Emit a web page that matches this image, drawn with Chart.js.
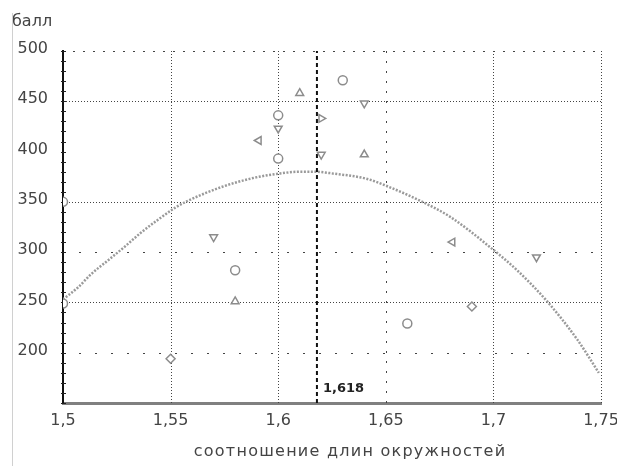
<!DOCTYPE html>
<html><head><meta charset="utf-8">
<script src="https://cdn.jsdelivr.net/npm/chart.js@4"></script>
<style>
html,body{margin:0;padding:0;background:#fff}
#wrap{position:relative;width:617px;height:466px;overflow:hidden}
#edge{position:absolute;left:12px;top:13px;width:1px;height:453px;background:#d0d0d0}
</style></head><body>
<div id="wrap"><canvas id="c" width="617" height="466"></canvas><div id="edge"></div></div>
<script>
// ---- data ----
const pointsX = [1.5, 1.5, 1.55, 1.57, 1.58, 1.58, 1.591, 1.6, 1.6, 1.6, 1.61, 1.62, 1.62, 1.63, 1.64, 1.64, 1.66, 1.681, 1.69, 1.72];
const pointsY = [350, 249, 194, 315, 282, 251, 411, 436, 423, 393, 458, 433, 397, 471, 448, 397, 229, 310, 246, 295];
const pointShapes = ['circle','circle','rectRot','triangle','circle','triangle','triangle','circle','triangle','circle','triangle','triangle','triangle','circle','triangle','triangle','circle','triangle','rectRot','triangle'];
const pointTurns = [0,0,0,180,0,0,270,0,180,0,0,90,180,0,180,0,0,270,0,180];
const trendX = [1.5, 1.507, 1.513, 1.521, 1.529, 1.536, 1.544, 1.552, 1.558, 1.574, 1.589, 1.6, 1.61, 1.617, 1.626, 1.641, 1.649, 1.667, 1.68, 1.699, 1.711, 1.725, 1.739, 1.749];
const trendY = [253, 265, 278, 292, 306, 319, 332, 344, 351, 365, 374, 378, 380, 380, 378, 373, 367, 350, 335, 304, 282, 251, 213, 180];
const goldenX = 1.618;
const goldenLabel = '1,618';
const xTicks = [1.5, 1.55, 1.6, 1.65, 1.7, 1.75];
const yTicks = [200, 250, 300, 350, 400, 450, 500];
const hGridDense = [250, 350, 450];
const hGridSparse = [200, 300];
const hGridTop = [500];
const vGridDense = [1.55, 1.6, 1.7, 1.75];
const vGridSparse = [1.65];
const yTitle = 'балл';
const xTitle = 'соотношение длин окружностей';

const FONT = 'DejaVu Sans';

const decor = {
  id: 'decor',
  beforeDatasetsDraw(chart) {
    const {ctx, chartArea: a, scales: {x, y}} = chart;
    ctx.save();
    ctx.strokeStyle = '#444';
    ctx.lineWidth = 1;
    const hline = (v, dash) => {
      const py = Math.round(y.getPixelForValue(v)) + 0.5;
      ctx.setLineDash(dash); ctx.beginPath(); ctx.moveTo(a.left, py); ctx.lineTo(a.right, py); ctx.stroke();
    };
    const vline = (v, dash) => {
      const px = Math.round(x.getPixelForValue(v)) + 0.5;
      ctx.setLineDash(dash); ctx.beginPath(); ctx.moveTo(px, a.top); ctx.lineTo(px, a.bottom); ctx.stroke();
    };
    hGridDense.forEach(v => hline(v, [1, 2]));
    hGridTop.forEach(v => hline(v, [2, 8]));
    hGridSparse.forEach(v => hline(v, [2, 14]));
    vGridDense.forEach(v => vline(v, [1, 2]));
    vGridSparse.forEach(v => vline(v, [2, 8]));
    // minor ticks on left axis
    ctx.setLineDash([]);
    ctx.strokeStyle = '#222';
    ctx.lineWidth = 1;
    for (let v = y.min; v <= y.max; v += 10) {
      const py = Math.round(y.getPixelForValue(v)) + 0.5;
      ctx.beginPath(); ctx.moveTo(a.left - 2, py); ctx.lineTo(a.left + 3, py); ctx.stroke();
    }
    ctx.restore();
  },
  afterDraw(chart) {
    const {ctx, chartArea: a, scales: {x}} = chart;
    ctx.save();
    ctx.fillStyle = '#444';
    ctx.font = '16px "' + FONT + '"';
    ctx.textAlign = 'center';
    ctx.textBaseline = 'middle';
    ctx.letterSpacing = '1.25px';
    ctx.fillText(xTitle, (a.left + a.right) / 2 + 18, 452);
    ctx.letterSpacing = '0px';
    ctx.fillStyle = '#222';
    ctx.font = 'bold 13px "' + FONT + '"';
    ctx.textAlign = 'left';
    ctx.fillText(goldenLabel, x.getPixelForValue(goldenX) + 6, a.bottom - 14);
    ctx.restore();
  }
};

new Chart(document.getElementById('c'), {
  type: 'scatter',
  data: {
    datasets: [
      {
        type: 'line',
        data: trendX.map((v, i) => ({x: v, y: trendY[i]})),
        borderColor: '#9a9a9a', borderWidth: 2.5, borderDash: [2, 1.5],
        pointRadius: 0, cubicInterpolationMode: 'monotone', fill: false, order: 2
      },
      {
        type: 'line',
        data: [{x: goldenX, y: 150}, {x: goldenX, y: 500}],
        borderColor: '#111', borderWidth: 2, borderDash: [4, 3],
        pointRadius: 0, fill: false, order: 1
      },
      {
        data: pointsX.map((v, i) => ({x: v, y: pointsY[i]})),
        pointStyle: pointShapes, rotation: pointTurns,
        pointRadius: 4.5, borderColor: '#8c8c8c', backgroundColor: '#fff', borderWidth: 1.5,
        order: 0
      }
    ]
  },
  options: {
    responsive: false, devicePixelRatio: 1, animation: false,
    layout: {padding: {left: 12, right: 16, top: 12, bottom: 0}},
    plugins: {
      legend: {display: false}, tooltip: {enabled: false},
      title: {display: true, text: yTitle, align: 'start', color: '#444',
        font: {family: FONT, size: 16, weight: 'normal'}, padding: {top: 0, bottom: 19.8}}
    },
    scales: {
      x: {
        type: 'linear', min: 1.5, max: 1.75,
        afterBuildTicks: s => { s.ticks = xTicks.map(v => ({value: v})); },
        afterFit: s => { s.height = 63; s.paddingRight = 0; s.paddingLeft = 0; },
        grid: {display: false, drawTicks: false},
        border: {display: true, color: '#808080', width: 3},
        ticks: {color: '#444', font: {family: FONT, size: 16}, padding: 8, maxRotation: 0, autoSkip: false,
          callback: v => String(v).replace('.', ',')}
      },
      y: {
        type: 'linear', min: 150, max: 500,
        afterBuildTicks: s => { s.ticks = yTicks.map(v => ({value: v})); },
        afterFit: s => { s.width = 51; },
        grid: {display: false, drawTicks: false},
        border: {display: true, color: '#111', width: 2},
        ticks: {color: '#444', font: {family: FONT, size: 16}, padding: 15, labelOffset: -2,
          callback: v => String(v)}
      }
    }
  },
  plugins: [decor]
});
</script>
</body></html>
